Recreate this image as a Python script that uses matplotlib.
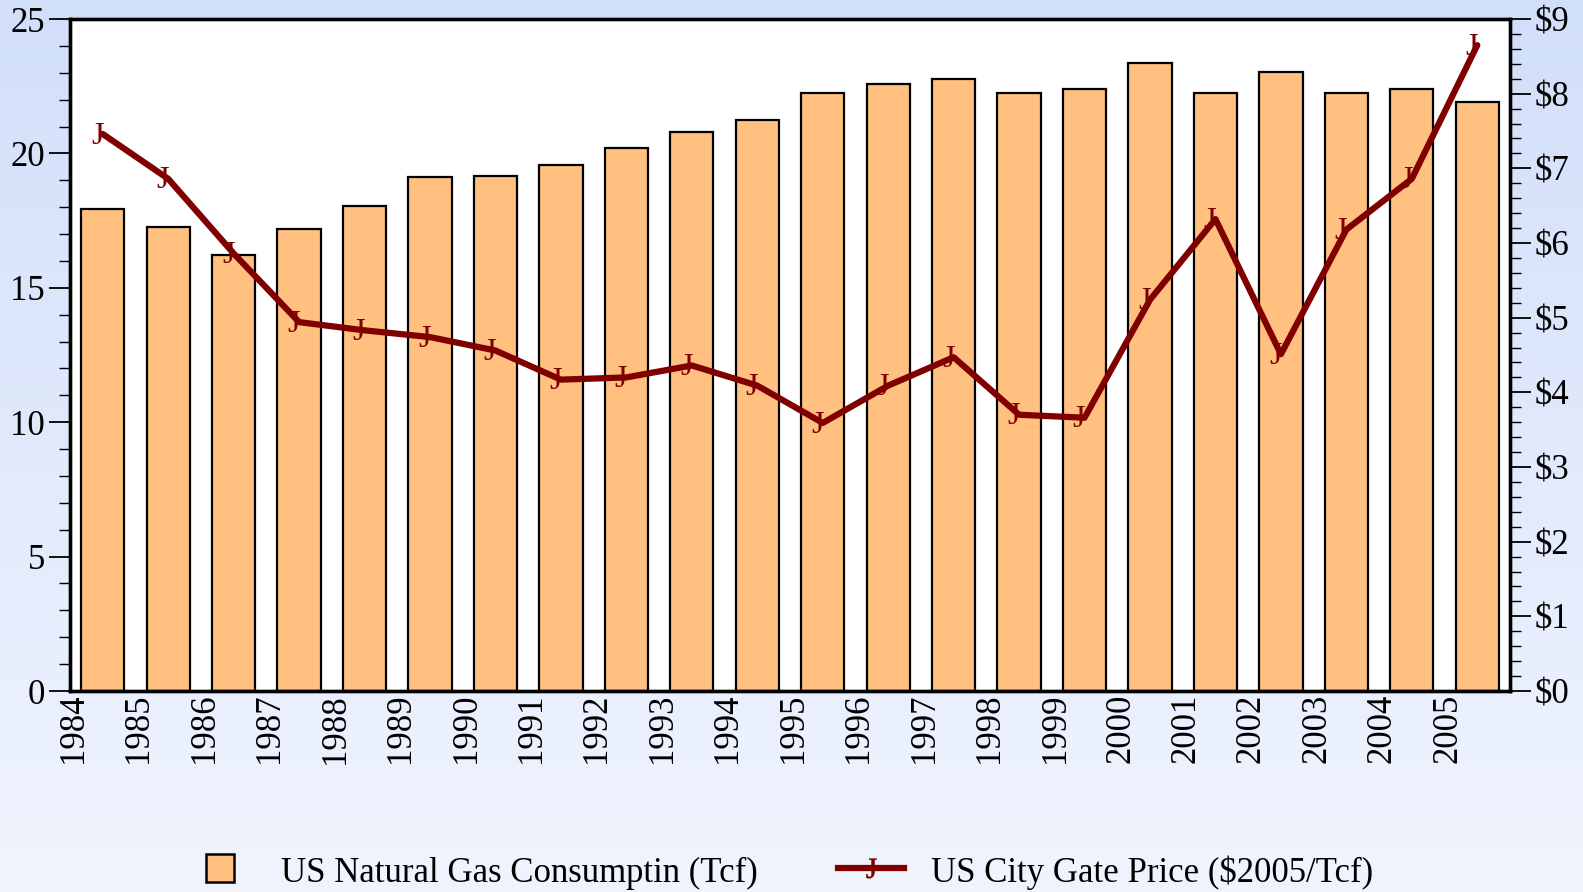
import matplotlib
matplotlib.use("Agg")
import matplotlib.pyplot as plt
import numpy as np
from matplotlib.lines import Line2D
from matplotlib.ticker import MultipleLocator, FuncFormatter

years = [str(y) for y in range(1984, 2006)]
consumption = [17.95, 17.28, 16.23, 17.20, 18.03, 19.12, 19.15, 19.57, 20.20, 20.80, 21.25,
               22.23, 22.60, 22.75, 22.23, 22.41, 23.35, 22.23, 23.01, 22.26, 22.41, 21.93]
price = [7.46, 6.86, 5.86, 4.94, 4.83, 4.74, 4.56, 4.17, 4.20, 4.36, 4.09,
         3.59, 4.09, 4.47, 3.70, 3.66, 5.24, 6.32, 4.51, 6.18, 6.86, 8.65]

plt.rcParams['font.family'] = ['Liberation Serif', 'DejaVu Serif']
plt.rcParams['mathtext.fontset'] = 'custom'
plt.rcParams['mathtext.rm'] = 'Liberation Serif'

W, H = 1583, 892
fig = plt.figure(figsize=(W/100, H/100), dpi=100)

# background gradient
bg = fig.add_axes([0, 0, 1, 1], zorder=-10)
top = np.array([210, 223, 250]) / 255
bot = np.array([240, 244, 254]) / 255
t = np.linspace(0, 1, 256)[:, None]
grad = top[None, :] * (1 - t) + bot[None, :] * t
bg.imshow(grad[:, None, :], aspect='auto', extent=[0, 1, 0, 1])
bg.axis('off')

ax = fig.add_axes([70/W, 1 - 691/H, (1510-70)/W, (691-19)/H])
ax.set_facecolor('white')
x = np.arange(len(years))
ax.bar(x, consumption, width=0.66, color='#FFC080', edgecolor='black', linewidth=1.6, zorder=2)
ax.set_xlim(-0.5, len(years) - 0.5)
ax.set_ylim(0, 25)
ax.yaxis.set_major_locator(MultipleLocator(5))
ax.yaxis.set_minor_locator(MultipleLocator(1))
ax.tick_params(axis='y', which='major', direction='out', length=15, width=1.3, labelsize=25, pad=3)
ax.tick_params(axis='y', which='minor', direction='out', length=8, width=1.0)
ax.set_xticks(x - 0.45)
ax.set_xticklabels(years, rotation=90, fontsize=25)
ax.tick_params(axis='x', length=0, pad=2)
for s in ax.spines.values():
    s.set_linewidth(2.4)

ax2 = ax.twinx()
ax2.set_ylim(0, 9)
ax2.yaxis.set_major_locator(MultipleLocator(1))
ax2.yaxis.set_minor_locator(MultipleLocator(0.2))
ax2.yaxis.set_major_formatter(FuncFormatter(lambda v, p: f"${int(v)}"))
ax2.tick_params(axis='y', which='major', direction='out', length=15, width=1.3, labelsize=25, pad=3)
ax2.tick_params(axis='y', which='minor', direction='out', length=8, width=1.0)
for s in ax2.spines.values():
    s.set_linewidth(2.4)
ax2.plot(x, price, color='#800000', linewidth=4.5, zorder=3, solid_capstyle='round',
         solid_joinstyle='round')
for xi, yi in zip(x, price):
    ax2.annotate('J', (xi, yi), xytext=(-4, -1.5), textcoords='offset points',
                 ha='center', va='center', color='#800000', fontsize=23, zorder=4)

handles = [Line2D([], [], linestyle='None', marker='s', markersize=20,
                  markerfacecolor='#FFC080', markeredgecolor='black', markeredgewidth=1.8),
           Line2D([], [], color='#800000', linewidth=4.5, marker=r'$\mathrm{J}$',
                  markersize=14, markeredgewidth=0.4)]
labels = ['US Natural Gas Consumptin (Tcf)', 'US City Gate Price ($2005/Tcf)']
fig.legend(handles, labels, loc='center', bbox_to_anchor=(0.493, 1 - 872/H), ncol=2,
           frameon=False, fontsize=25, handlelength=1.9, handleheight=1.0,
           columnspacing=2.3, handletextpad=0.8)

fig.savefig('out.png', dpi=100)
